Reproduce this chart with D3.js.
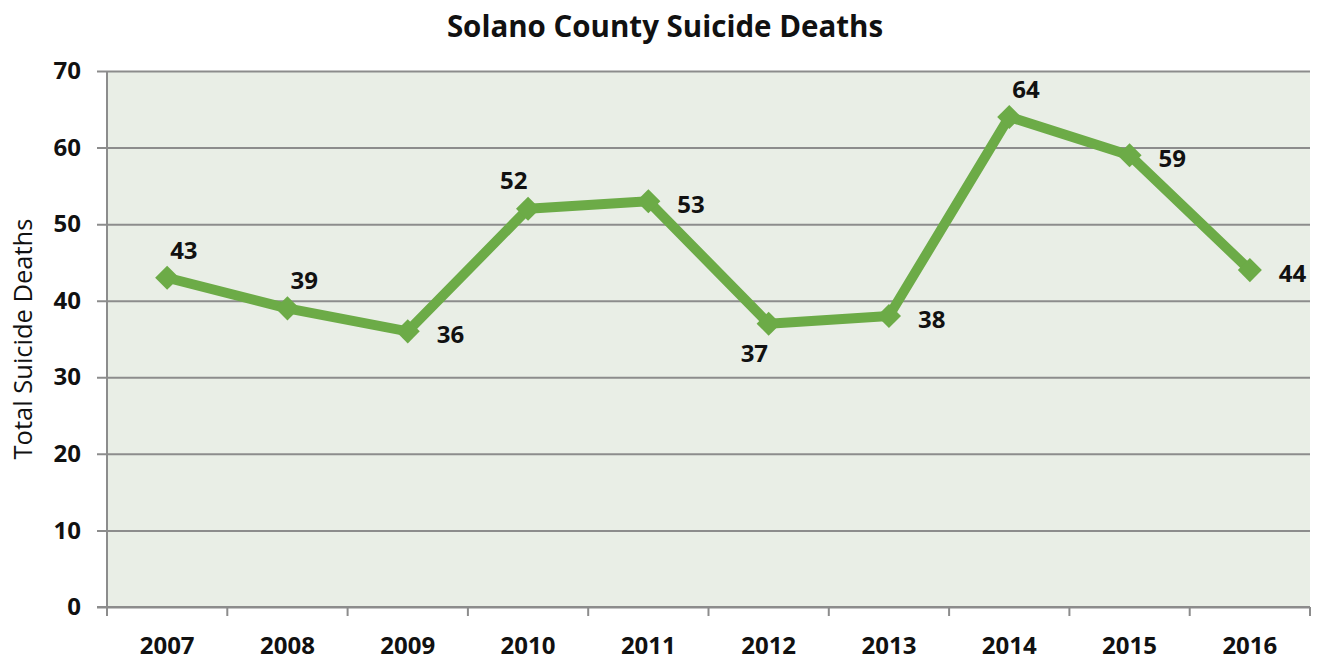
<!DOCTYPE html>
<html>
<head>
<meta charset="utf-8">
<script src="https://cdn.jsdelivr.net/npm/d3@7"></script>
<style>
  body { margin: 0; background: #fff; }
  svg { display: block; font-family: "Open Sans", Lato, sans-serif; }
</style>
</head>
<body>
<svg id="chart" width="1325" height="660"></svg>
<script>
// Annual suicide deaths, Solano County
const years = ["2007", "2008", "2009", "2010", "2011", "2012", "2013", "2014", "2015", "2016"];
const deaths = [43, 39, 36, 52, 53, 37, 38, 64, 59, 44];
const yTicks = [0, 10, 20, 30, 40, 50, 60, 70];
// where each value label sits relative to its marker
const labelSide = ["ur", "ur", "r", "ul", "r", "bl", "r", "ur", "r", "r"];

const svg = d3.select("#chart");
const margin = { left: 107, right: 15, top: 71, bottom: 53 };
const W = 1325, H = 660;
const iw = W - margin.left - margin.right;
const ih = H - margin.top - margin.bottom;

const x = d3.scaleBand().domain(years).range([margin.left, margin.left + iw]);
const y = d3.scaleLinear().domain([0, 70]).range([margin.top + ih, margin.top]);

const ink = "#111";
const gridColor = "#8c8c8c";
const green = "#6cab47";

// plot background
svg.append("rect")
  .attr("x", margin.left).attr("y", margin.top)
  .attr("width", iw).attr("height", ih)
  .attr("fill", "#e9eee6");

// horizontal gridlines extending into left ticks
const gy = svg.append("g").attr("transform", `translate(${margin.left + iw},0)`);
gy.call(d3.axisLeft(y).tickValues(yTicks).tickSize(iw + 10).tickPadding(16).tickFormat(d3.format("d")));
gy.select(".domain").remove();
gy.selectAll(".tick line").attr("stroke", gridColor).attr("stroke-width", 2);
gy.selectAll(".tick text")
  .attr("font-family", "'Open Sans', sans-serif")
  .attr("font-size", 24).attr("font-weight", "bold").attr("fill", ink);

// y axis line
svg.append("line")
  .attr("x1", margin.left).attr("x2", margin.left)
  .attr("y1", margin.top).attr("y2", margin.top + ih)
  .attr("stroke", gridColor).attr("stroke-width", 2);

// x axis with ticks at category boundaries
const gx = svg.append("g").attr("transform", `translate(0,${margin.top + ih})`);
gx.append("line")
  .attr("x1", margin.left - 10).attr("x2", margin.left + iw)
  .attr("stroke", gridColor).attr("stroke-width", 2);
const bounds = years.map(d => x(d)).concat([x(years[years.length - 1]) + x.bandwidth()]);
gx.selectAll("line.bt").data(bounds).enter().append("line")
  .attr("class", "bt")
  .attr("x1", d => d).attr("x2", d => d)
  .attr("y1", 0).attr("y2", 9)
  .attr("stroke", gridColor).attr("stroke-width", 2);
gx.selectAll("text").data(years).enter().append("text")
  .attr("x", d => x(d) + x.bandwidth() / 2)
  .attr("y", 47)
  .attr("text-anchor", "middle")
  .attr("font-size", 24).attr("font-weight", "bold").attr("fill", ink)
  .text(d => d);

const cx = (d, i) => x(years[i]) + x.bandwidth() / 2;

// data line
const line = d3.line().x((d, i) => cx(d, i)).y(d => y(d));
svg.append("path")
  .datum(deaths)
  .attr("d", line)
  .attr("fill", "none")
  .attr("stroke", green)
  .attr("stroke-width", 10)
  .attr("stroke-linejoin", "round");

// diamond markers
const diamond = d3.symbol().type(d3.symbolDiamond2).size(370);
svg.selectAll("path.mk").data(deaths).enter().append("path")
  .attr("class", "mk")
  .attr("d", diamond)
  .attr("transform", (d, i) => `translate(${cx(d, i)},${y(d)})`)
  .attr("fill", green);

// value labels
const offs = {
  ur: [3, -19],
  r: [29, 12],
  ul: [-28, -20],
  bl: [-28, 38]
};
svg.selectAll("text.val").data(deaths).enter().append("text")
  .attr("class", "val")
  .attr("x", (d, i) => cx(d, i) + offs[labelSide[i]][0])
  .attr("y", (d, i) => y(d) + offs[labelSide[i]][1])
  .attr("font-size", 24).attr("font-weight", "bold").attr("fill", ink)
  .text(d => d);

// title
svg.append("text")
  .attr("x", 665).attr("y", 37)
  .attr("text-anchor", "middle")
  .attr("font-size", 29.5).attr("font-weight", "bold").attr("fill", ink)
  .text("Solano County Suicide Deaths");

// y axis title
svg.append("text")
  .attr("transform", `translate(32,${margin.top + ih / 2}) rotate(-90)`)
  .attr("text-anchor", "middle")
  .attr("font-size", 25.5).attr("fill", ink)
  .text("Total Suicide Deaths");
</script>
</body>
</html>
